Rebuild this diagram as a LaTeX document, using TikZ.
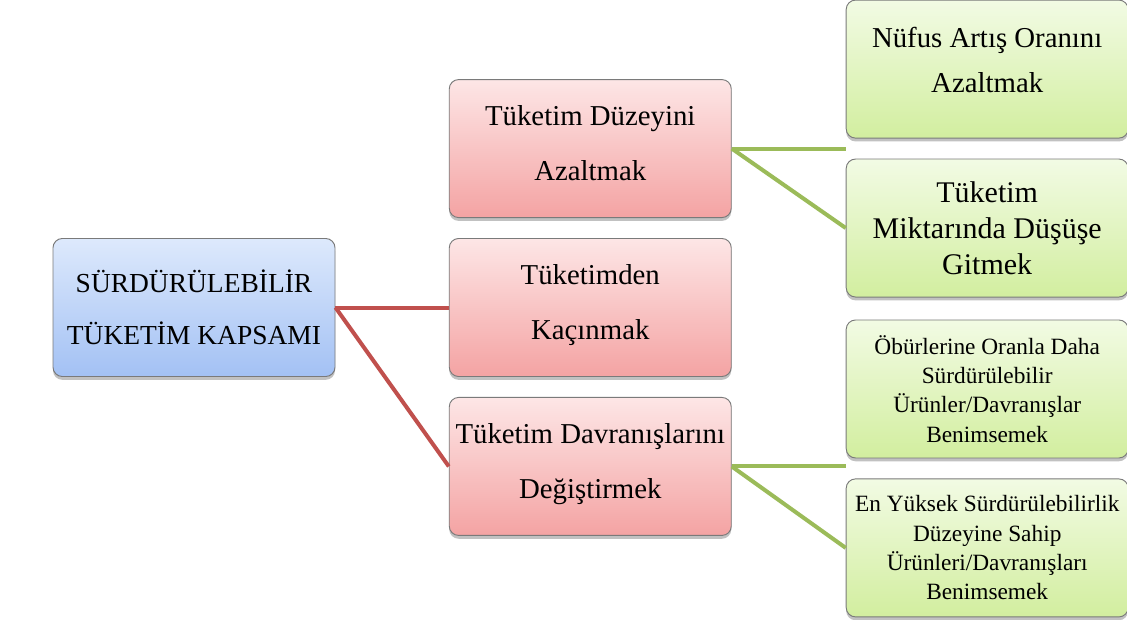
\documentclass[tikz,border=0pt]{standalone}
\usepackage{fontspec}
\setmainfont{Liberation Serif}
\usetikzlibrary{positioning,shadows}
\definecolor{edge}{HTML}{7A7A7A}
\definecolor{rootTop}{HTML}{DDE9FC}
\definecolor{rootBot}{HTML}{A3C1F4}
\definecolor{redTop}{HTML}{FDE6E6}
\definecolor{redBot}{HTML}{F4A3A3}
\definecolor{grnTop}{HTML}{F2FBE4}
\definecolor{grnBot}{HTML}{D2EE9F}
\definecolor{redline}{HTML}{C0504D}
\definecolor{grnline}{HTML}{9BBB59}

\begin{document}
\begin{tikzpicture}[x=0.75pt,y=-0.75pt,node distance=15pt and 85pt,
 box/.style={draw=edge,line width=0.7pt,rounded corners=7pt,minimum width=211.5pt,
 minimum height=103.5pt,align=center,inner sep=2pt,
 drop shadow={shadow xshift=0pt,shadow yshift=-2.5pt,opacity=.35,fill=black!70}},
 rootbox/.style={box,top color=rootTop,bottom color=rootBot,font=\fontsize{20.6}{39}\selectfont},
 redbox/.style={box,top color=redTop,bottom color=redBot,font=\fontsize{21.6}{41}\selectfont,text depth=8pt},
 grnbox/.style={box,top color=grnTop,bottom color=grnBot},
 redlink/.style={draw=redline,line width=3pt},
 grnlink/.style={draw=grnline,line width=3pt}]
 \useasboundingbox (0,0) rectangle (1127,620);
 % root and first level
 \node[rootbox] (root) at (194,307.5) {SÜRDÜRÜLEBİLİR\\TÜKETİM KAPSAMI};
 \node[redbox,right=of root] (kac) {Tüketimden\\Kaçınmak};
 \node[redbox,above=of kac] (duz) {Tüketim Düzeyini\\Azaltmak};
 \node[redbox,below=of kac] (dav) {Tüketim Davranışlarını\\Değiştirmek};
 % second level
 \coordinate[right=85.5pt of duz] (dj);
 \coordinate[right=85.5pt of dav] (vj);
 \node[grnbox,above right=7.5pt and 0pt of dj,font=\fontsize{21.6}{34}\selectfont,text depth=14pt] (nuf) {Nüfus Artış Oranını\\Azaltmak};
 \node[grnbox,below right=7.5pt and 0pt of dj,font=\fontsize{22.5}{27}\selectfont] (mik) {Tüketim\\Miktarında Düşüşe\\Gitmek};
 \node[grnbox,above right=6pt and 0pt of vj,font=\fontsize{17.5}{22}\selectfont] (obu) {Öbürlerine Oranla Daha\\Sürdürülebilir\\Ürünler/Davranışlar\\Benimsemek};
 \node[grnbox,below right=9pt and 0pt of vj,font=\fontsize{17.5}{22}\selectfont] (yuk) {En Yüksek Sürdürülebilirlik\\Düzeyine Sahip\\Ürünleri/Davranışları\\Benimsemek};
 % connectors
 \draw[redlink] (root.east) -- (kac.west);
 \draw[redlink] (root.east) -- (dav.west);
 \draw[grnlink] (duz.east) -- (dj);
 \draw[grnlink] (duz.east) -- (mik.west);
 \draw[grnlink] (dav.east) -- (vj);
 \draw[grnlink] (dav.east) -- (yuk.west);
\end{tikzpicture}
\end{document}
